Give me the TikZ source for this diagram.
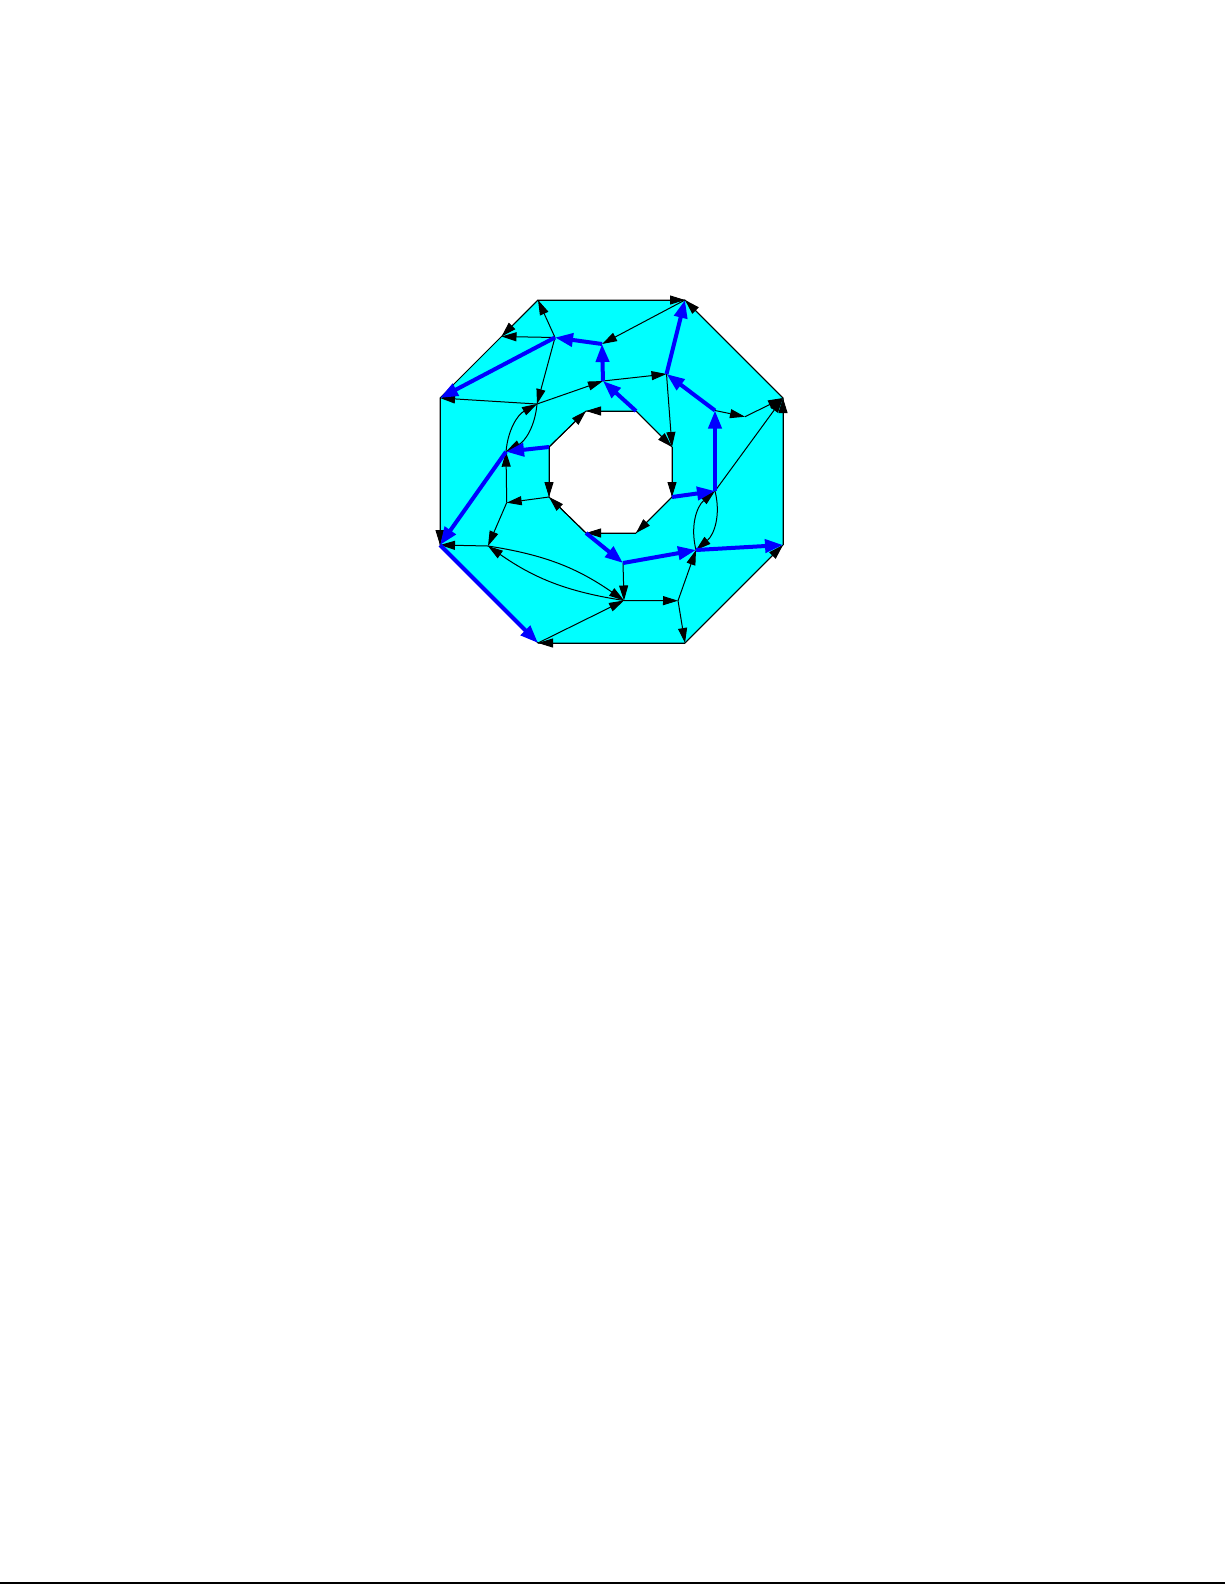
\documentclass[tikz,border=0pt]{standalone}
\usetikzlibrary{arrows.meta}
\definecolor{cyanfill}{RGB}{0,255,255}
\definecolor{pathblue}{RGB}{0,0,255}
\begin{document}
\begin{tikzpicture}[x=0.5pt,y=-0.5pt,
  thinedge/.style={draw=black,line width=0.5pt,-{Triangle[length=7.5pt,width=4.5pt]}},
  blueedge/.style={draw=pathblue,line width=2pt,-{Triangle[length=9pt,width=6.5pt]}},
  outline/.style={draw=black,line width=0.5pt,line join=miter}]
\useasboundingbox (0,0) rectangle (1225,1585);
% outer octagon
\coordinate (A) at (538,300);
\coordinate (C) at (685,300);
\coordinate (D) at (783,398);
\coordinate (E) at (783,545);
\coordinate (F) at (685,643);
\coordinate (G) at (538,643);
\coordinate (H) at (440,545);
\coordinate (B) at (440,398);
\coordinate (Q1) at (501.5,336.5);
% hole
\coordinate (h1) at (586,411);
\coordinate (h2) at (636,411);
\coordinate (h3) at (672,447);
\coordinate (h4) at (672,497);
\coordinate (h5) at (636,533);
\coordinate (h6) at (586,533);
\coordinate (h7) at (549,497);
\coordinate (h8) at (549,447);
% interior vertices
\coordinate (P1) at (555,337.5);
\coordinate (P2) at (537,404);
\coordinate (P3) at (603,381);
\coordinate (P4) at (506,451.7);
\coordinate (P5) at (602,344);
\coordinate (P6) at (666.5,374);
\coordinate (P7) at (715,410.5);
\coordinate (P8) at (745,416.7);
\coordinate (P9) at (715,491);
\coordinate (P10) at (696,550);
\coordinate (P11) at (623,563);
\coordinate (P12) at (624,600.5);
\coordinate (P13) at (678,600.7);
\coordinate (P14) at (488,546);
\coordinate (P15) at (506.7,502.7);
\coordinate (bl) at (0,1583);
\coordinate (br) at (1225,1583);
% faces
\fill[cyanfill] (A)--(C)--(D)--(E)--(F)--(G)--(H)--(B)--cycle;
\fill[white] (h1)--(h2)--(h3)--(h4)--(h5)--(h6)--(h7)--(h8)--cycle;
\draw[outline] (A)--(C)--(D)--(E)--(F)--(G)--(H)--(B)--cycle;
\draw[outline] (h1)--(h2)--(h3)--(h4)--(h5)--(h6)--(h7)--(h8)--cycle;
% directed boundary edges
\draw[thinedge] (A) -- (C);
\draw[thinedge] (D) -- (C);
\draw[thinedge] (E) -- (D);
\draw[thinedge] (F) -- (E);
\draw[thinedge] (F) -- (G);
\draw[thinedge] (B) -- (H);
\draw[thinedge] (A) -- (Q1);
\draw[thinedge] (h8) -- (h1);
\draw[thinedge] (h2) -- (h1);
\draw[thinedge] (h2) -- (h3);
\draw[thinedge] (h3) -- (h4);
\draw[thinedge] (h4) -- (h5);
\draw[thinedge] (h5) -- (h6);
\draw[thinedge] (h6) -- (h7);
\draw[thinedge] (h8) -- (h7);
% interior black edges
\draw[thinedge] (P1) -- (A);
\draw[thinedge] (P1) -- (Q1);
\draw[thinedge] (P1) -- (P2);
\draw[thinedge] (P2) -- (B);
\draw[thinedge] (P2) -- (P3);
\draw[thinedge] (P4) to[bend left=28] (P2);
\draw[thinedge] (P2) to[bend left=28] (P4);
\draw[thinedge] (C) -- (P5);
\draw[thinedge] (P3) -- (P6);
\draw[thinedge] (P6) -- (h3);
\draw[thinedge] (P7) -- (P8);
\draw[thinedge] (P8) -- (D);
\draw[thinedge] (P9) -- (D);
\draw[thinedge] (P9) to[bend left=32] (P10);
\draw[thinedge] (P10) to[bend left=32] (P9);
\draw[thinedge] (P13) -- (P10);
\draw[thinedge] (P13) -- (F);
\draw[thinedge] (P12) -- (P13);
\draw[thinedge] (P11) -- (P12);
\draw[thinedge] (P14) to[bend left=13] (P12);
\draw[thinedge] (P12) to[bend left=13] (P14);
\draw[thinedge] (G) -- (P12);
\draw[thinedge] (P15) -- (P4);
\draw[thinedge] (h7) -- (P15);
\draw[thinedge] (P15) -- (P14);
\draw[thinedge] (P14) -- (H);
% blue paths
\draw[blueedge] (h8) -- (P4);
\draw[blueedge] (P4) -- (H);
\draw[blueedge] (H) -- (G);
\draw[blueedge] (h2) -- (P3);
\draw[blueedge] (P3) -- (P5);
\draw[blueedge] (P5) -- (P1);
\draw[blueedge] (P1) -- (B);
\draw[blueedge] (h4) -- (P9);
\draw[blueedge] (P9) -- (P7);
\draw[blueedge] (P7) -- (P6);
\draw[blueedge] (P6) -- (C);
\draw[blueedge] (h6) -- (P11);
\draw[blueedge] (P11) -- (P10);
\draw[blueedge] (P10) -- (E);
% page rule
\draw[line width=1pt] (bl) -- (br);
\end{tikzpicture}
\end{document}
